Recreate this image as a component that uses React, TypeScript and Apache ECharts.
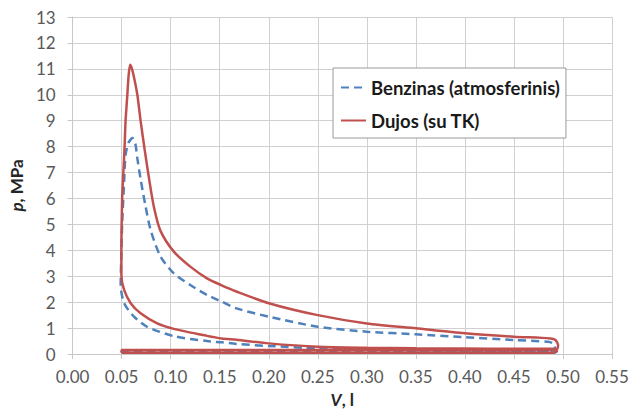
import React, { useEffect, useRef } from "react";
import * as echarts from "echarts";

// Volume (l) and pressure (MPa) along each closed p–V cycle
const benzV = [
  0.05, 0.2, 0.35, 0.49, 0.493,
  0.49, 0.45, 0.40, 0.35, 0.30, 0.25, 0.20, 0.167, 0.152, 0.137, 0.103, 0.076, 0.0626, 0.0525, 0.049,
  0.0495, 0.0505, 0.0525, 0.054, 0.057, 0.061, 0.064, 0.066, 0.0693, 0.0744, 0.0795, 0.0896, 0.1032, 0.12, 0.137, 0.152, 0.167, 0.20, 0.25, 0.30, 0.35, 0.40, 0.45, 0.485,
  0.491, 0.492, 0.48, 0.30, 0.10, 0.05, 0.05,
];
const benzP = [
  0.06, 0.06, 0.06, 0.06, 0.08,
  0.1, 0.11, 0.13, 0.15, 0.18, 0.22, 0.31, 0.39, 0.45, 0.5, 0.69, 1.05, 1.44, 1.96, 2.66,
  3.6, 5.0, 6.65, 7.68, 8.15, 8.33, 8.1, 7.55, 6.75, 5.69, 4.79, 3.76, 3.11, 2.66, 2.28, 2.02, 1.76, 1.44, 1.05, 0.86, 0.76, 0.65, 0.54, 0.47,
  0.38, 0.2, 0.12, 0.11, 0.11, 0.11, 0.06,
];

const dujV = [
  0.05, 0.2, 0.35, 0.49, 0.494,
  0.49, 0.45, 0.40, 0.35, 0.30, 0.25, 0.20, 0.167, 0.152, 0.137, 0.1032, 0.0863, 0.0693, 0.0592, 0.0525, 0.0497,
  0.0497, 0.05, 0.0505, 0.0512, 0.053, 0.054, 0.0558, 0.057, 0.0586, 0.0605, 0.063, 0.066, 0.0693, 0.0734, 0.078, 0.083, 0.0896, 0.1032, 0.12, 0.137, 0.152, 0.167, 0.20, 0.25, 0.30, 0.35, 0.40, 0.45, 0.487,
  0.492, 0.495, 0.494, 0.48, 0.30, 0.10, 0.05, 0.05,
];
const dujP = [
  0.05, 0.05, 0.05, 0.05, 0.12,
  0.2, 0.2, 0.21, 0.22, 0.24, 0.28, 0.41, 0.55, 0.6, 0.7, 0.97, 1.18, 1.57, 1.96, 2.47, 3.05,
  4.0, 5.0, 6.0, 6.6, 8.0, 9.0, 10.0, 10.7, 11.16, 11.0, 10.6, 10.0, 9.0, 7.9, 6.75, 5.65, 4.75, 3.95, 3.37, 2.92, 2.65, 2.41, 1.96, 1.5, 1.18, 0.99, 0.8, 0.67, 0.6,
  0.55, 0.35, 0.2, 0.16, 0.15, 0.15, 0.15, 0.05,
];

const seriesNames = ["Benzinas (atmosferinis)", "Dujos (su TK)"];
const seriesColors = ["#4F81BD", "#C0504D"];

const FONT = "Lato, 'Open Sans', sans-serif";

function zip(a: number[], b: number[]) {
  return a.map((v, i) => [v, b[i]]);
}

export default function App() {
  const ref = useRef<HTMLDivElement>(null);
  useEffect(() => {
    if (!ref.current) return;
    const chart = echarts.init(ref.current, undefined, { renderer: "svg" });
    chart.setOption({
      animation: false,
      backgroundColor: "#ffffff",
      textStyle: { fontFamily: FONT },
      grid: { left: 70, right: 21, top: 17, bottom: 64, containLabel: false },
      legend: {
        orient: "vertical",
        left: 333,
        top: 68,
        padding: [10, 6, 8, 7],
        itemGap: 14,
        itemWidth: 25,
        itemHeight: 14,
        backgroundColor: "#ffffff",
        borderColor: "#9a9a9a",
        borderWidth: 1,
        itemStyle: { opacity: 0 },
        textStyle: { fontFamily: FONT, fontSize: 18.5, fontWeight: "bold", color: "#1a1a1a" },
        data: seriesNames,
      },
      xAxis: {
        type: "value",
        min: 0,
        max: 0.55,
        interval: 0.05,
        name: "{i|V}{b|, l}",
        nameLocation: "middle",
        nameGap: 37,
        nameTextStyle: {
          rich: {
            i: { fontFamily: FONT, fontSize: 17, fontWeight: "bold", fontStyle: "italic", color: "#262626" },
            b: { fontFamily: FONT, fontSize: 17, fontWeight: "bold", color: "#262626" },
          },
        },
        axisLine: { show: true, lineStyle: { color: "#c8c8c8" } },
        axisTick: { show: true, length: 5, lineStyle: { color: "#c8c8c8" } },
        splitLine: { show: true, lineStyle: { color: "#d0d0d0" } },
        axisLabel: {
          margin: 14,
          fontSize: 17,
          color: "#595959",
          fontFamily: FONT,
          formatter: (v: number) => v.toFixed(2),
        },
      },
      yAxis: {
        type: "value",
        min: 0,
        max: 13,
        interval: 1,
        name: "{i|p}{b|, MPa}",
        nameLocation: "middle",
        nameRotate: 90,
        nameGap: 43,
        nameTextStyle: {
          rich: {
            i: { fontFamily: FONT, fontSize: 17, fontWeight: "bold", fontStyle: "italic", color: "#262626" },
            b: { fontFamily: FONT, fontSize: 17, fontWeight: "bold", color: "#262626" },
          },
        },
        axisLine: { show: true, lineStyle: { color: "#c8c8c8" } },
        axisTick: { show: true, length: 5, lineStyle: { color: "#c8c8c8" } },
        splitLine: { show: true, lineStyle: { color: "#d0d0d0" } },
        axisLabel: { margin: 17, fontSize: 17, color: "#595959", fontFamily: FONT },
      },
      series: [
        {
          name: seriesNames[0],
          type: "line",
          data: zip(benzV, benzP),
          symbol: "none",
          smooth: 0.25,
          color: seriesColors[0],
          lineStyle: { color: seriesColors[0], width: 2.5, type: [8, 5] },
          z: 2,
        },
        {
          name: seriesNames[1],
          type: "line",
          data: zip(dujV, dujP),
          symbol: "none",
          smooth: 0.25,
          color: seriesColors[1],
          lineStyle: { color: seriesColors[1], width: 2.5 },
          z: 3,
        },
      ],
    });
    return () => chart.dispose();
  }, []);
  return (
    <div
      ref={ref}
      style={{ position: "fixed", left: 0, top: 0, width: 633, height: 418 }}
    />
  );
}
